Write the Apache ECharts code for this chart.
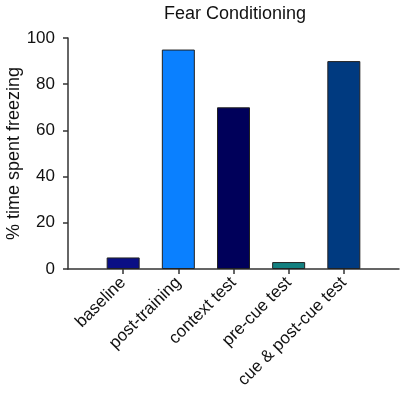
<!DOCTYPE html>
<html>
<head>
<meta charset="utf-8">
<script src="https://cdn.jsdelivr.net/npm/echarts@6/dist/echarts.min.js"></script>
<style>
  html, body { margin: 0; padding: 0; background: #fff; }
  #chart { width: 400px; height: 397px; }
</style>
</head>
<body>
<div id="chart"></div>
<script>
// categories (empty slots at both ends pad the axis like the original)
const categories = ["", "baseline", "post-training", "context test", "pre-cue test", "cue & post-cue test", ""];
const freezing = [null, 5, 95, 70, 3, 90, null];
const barColors = ["#000", "#0a0f85", "#0a80ff", "#00005a", "#138080", "#003a80", "#000"];
const yTicks = [0, 20, 40, 60, 80, 100];

const chart = echarts.init(document.getElementById("chart"));

const option = {
  animation: false,
  title: {
    text: "Fear Conditioning",
    left: 230,
    top: 0,
    textAlign: "center",
    textStyle: { fontFamily: "Liberation Sans", fontSize: 18, fontWeight: "normal", color: "#111" },
  },
  grid: { left: 68, right: 1, top: 38, bottom: 128, outerBoundsMode: "none" },
  xAxis: {
    type: "category",
    data: categories,
    boundaryGap: false,
    axisLine: { lineStyle: { color: "#333", width: 1.5 } },
    axisTick: {
      length: 5,
      interval: (idx) => idx > 0 && idx < categories.length - 1,
      lineStyle: { color: "#333", width: 1.5 },
    },
    axisLabel: {
      rotate: 45,
      margin: 11,
      interval: 0,
      fontFamily: "Liberation Sans",
      fontSize: 17,
      color: "#111",
    },
  },
  yAxis: {
    type: "value",
    min: yTicks[0],
    max: yTicks[yTicks.length - 1],
    interval: 20,
    name: "% time spent freezing",
    nameLocation: "middle",
    nameGap: 45,
    nameMoveOverlap: false,
    nameTextStyle: { fontFamily: "Liberation Sans", fontSize: 18, color: "#111" },
    axisLine: { show: true, lineStyle: { color: "#333", width: 1.5 } },
    axisTick: { show: true, length: 5, lineStyle: { color: "#333", width: 1.5 } },
    axisLabel: { margin: 13, fontFamily: "Liberation Sans", fontSize: 17, color: "#111" },
    splitLine: { show: false },
  },
  series: [
    {
      type: "bar",
      data: freezing,
      barWidth: 33,
      itemStyle: {
        color: (p) => barColors[p.dataIndex],
        borderColor: "#222",
        borderWidth: 1,
      },
    },
  ],
};

chart.setOption(option);
</script>
</body>
</html>
